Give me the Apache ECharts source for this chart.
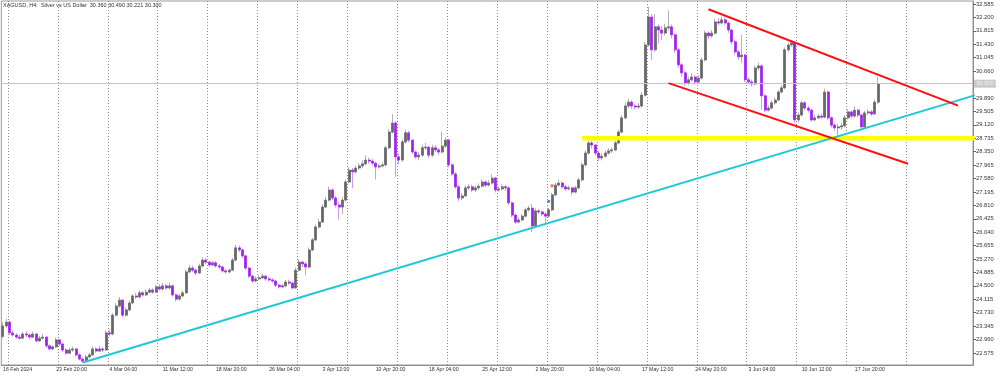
<!DOCTYPE html>
<html>
<head>
    <meta charset="UTF-8">
    <title>XAGUSD, H4</title>
    <script src="https://cdn.jsdelivr.net/npm/echarts@6/dist/echarts.min.js"></script>
    <style>
        html, body { margin: 0; padding: 0; background: #fff; }
        #main { width: 1000px; height: 376px; }
    </style>
</head>
<body>
<div id="main"></div>
<script type="text/javascript">
    // 标题 (symbol, timeframe, last bar OHLC)
    var titleText = 'XAGUSD, H4:  Silver vs US Dollar  30.360 30.490 30.221 30.300';

    // time axis labels, one every 16 candles
    var timeLabels = ['16 Feb 2024', '23 Feb 20:00', '4 Mar 04:00', '11 Mar 12:00', '18 Mar 20:00',
        '26 Mar 04:00', '3 Apr 12:00', '10 Apr 20:00', '18 Apr 04:00', '25 Apr 12:00', '2 May 20:00',
        '10 May 04:00', '17 May 12:00', '24 May 20:00', '3 Jun 04:00', '10 Jun 12:00', '17 Jun 20:00'];

    // candle index where each week starts (dotted grid)
    var weekStarts = [2, 17, 32, 47, 62, 77, 89, 104, 119, 134, 149, 164, 179, 194, 209, 224, 239, 254, 272];

    // price scale labels
    var priceTicks = [32.585, 32.200, 31.815, 31.430, 31.045, 30.660, 29.890, 29.505, 29.120, 28.735,
        28.350, 27.965, 27.580, 27.195, 26.810, 26.425, 26.040, 25.655, 25.270, 24.885, 24.500,
        24.115, 23.730, 23.345, 22.960, 22.575];

    var firstOpen = 23.05;
    var closes = [
        23.35, 23.46, 23.15, 23.09, 23.03, 23.00, 23.12, 23.09, 23.03, 23.12,
        22.92, 23.00, 23.03, 22.78, 22.69, 22.75, 22.95, 22.83, 22.66, 22.57,
        22.66, 22.69, 22.52, 22.40, 22.34, 22.46, 22.52, 22.69, 22.63, 22.69,
        22.66, 23.15, 23.12, 23.66, 23.92, 24.09, 23.66, 23.81, 24.01, 24.21,
        24.18, 24.30, 24.24, 24.32, 24.38, 24.32, 24.47, 24.41, 24.50, 24.44,
        24.50, 24.24, 24.12, 24.21, 24.30, 24.90, 25.01, 24.95, 24.87, 25.07,
        25.24, 25.18, 25.10, 25.16, 25.07, 25.04, 24.93, 24.90, 24.95, 25.24,
        25.59, 25.53, 25.36, 25.01, 24.78, 24.64, 24.70, 24.73, 24.78, 24.70,
        24.67, 24.64, 24.52, 24.47, 24.50, 24.61, 24.58, 24.44, 24.95, 25.18,
        25.13, 25.04, 25.53, 25.82, 26.19, 26.33, 26.76, 26.96, 27.25, 27.02,
        26.82, 26.76, 26.96, 27.48, 27.82, 27.77, 27.88, 27.94, 28.00, 28.11,
        28.08, 28.02, 27.91, 27.94, 27.97, 28.46, 28.91, 29.17, 28.20, 28.11,
        28.63, 28.89, 28.68, 28.34, 28.20, 28.25, 28.46, 28.48, 28.25, 28.46,
        28.40, 28.34, 28.51, 28.68, 27.97, 27.71, 27.34, 27.02, 27.08, 27.31,
        27.34, 27.25, 27.31, 27.36, 27.48, 27.39, 27.45, 27.59, 27.25, 27.28,
        27.34, 27.31, 26.88, 26.53, 26.33, 26.39, 26.50, 26.68, 26.73, 26.22,
        26.65, 26.62, 26.56, 26.50, 26.68, 27.11, 27.39, 27.45, 27.34, 27.28,
        27.31, 27.19, 27.31, 27.54, 27.97, 28.31, 28.60, 28.54, 28.31, 28.17,
        28.22, 28.31, 28.37, 28.40, 28.60, 28.91, 29.32, 29.66, 29.77, 29.66,
        29.63, 29.66, 29.97, 31.41, 32.21, 31.27, 31.93, 31.84, 31.75, 31.90,
        31.93, 31.70, 31.27, 30.84, 30.61, 30.32, 30.41, 30.49, 30.35, 30.46,
        30.98, 31.75, 31.67, 31.75, 32.07, 32.04, 32.13, 32.04, 31.84, 31.50,
        31.21, 31.07, 31.12, 30.41, 30.35, 30.29, 30.75, 30.81, 29.95, 29.54,
        29.60, 29.75, 29.83, 30.06, 30.18, 31.27, 31.41, 31.47, 29.26, 29.40,
        29.75, 29.60, 29.54, 29.26, 29.32, 29.37, 29.34, 30.06, 29.32, 29.11,
        29.03, 29.06, 29.09, 29.32, 29.49, 29.37, 29.54, 29.40, 29.06, 29.46,
        29.49, 29.43, 29.77, 30.30
    ];
    var highs = [
        23.46, 23.55, 23.50, 23.22, 23.14, 23.10, 23.18, 23.20, 23.13, 23.19,
        23.15, 23.06, 23.12, 23.06, 22.82, 22.80, 23.02, 22.98, 22.87, 22.70,
        22.72, 22.76, 22.72, 22.56, 22.45, 22.52, 22.58, 22.76, 22.74, 22.78,
        22.74, 23.22, 23.25, 23.72, 24.00, 24.18, 24.12, 23.88, 24.08, 24.27,
        24.30, 24.37, 24.35, 24.40, 24.44, 24.43, 24.53, 24.55, 24.58, 24.56,
        24.60, 24.54, 24.28, 24.27, 24.36, 24.97, 25.10, 25.08, 25.00, 25.14,
        25.32, 25.30, 25.22, 25.22, 25.21, 25.13, 25.08, 24.99, 25.01, 25.30,
        25.68, 25.66, 25.57, 25.40, 25.05, 24.82, 24.77, 24.80, 24.84, 24.82,
        24.75, 24.72, 24.68, 24.56, 24.56, 24.67, 24.68, 24.62, 25.02, 25.26,
        25.22, 25.18, 25.60, 25.88, 26.26, 26.42, 26.84, 27.05, 27.34, 27.30,
        27.08, 26.90, 27.05, 27.55, 27.90, 27.88, 27.95, 28.02, 28.10, 28.25,
        28.18, 28.14, 28.06, 28.00, 28.04, 28.52, 29.00, 29.42, 29.22, 28.30,
        28.70, 28.98, 28.95, 28.72, 28.38, 28.33, 28.55, 28.60, 28.52, 28.55,
        28.54, 28.45, 28.92, 28.76, 28.72, 28.02, 27.76, 27.40, 27.16, 27.38,
        27.42, 27.40, 27.38, 27.44, 27.55, 27.52, 27.53, 27.70, 27.63, 27.36,
        27.42, 27.40, 27.35, 26.92, 26.57, 26.46, 26.56, 26.74, 26.80, 26.85,
        26.72, 26.70, 26.66, 26.62, 26.74, 27.17, 27.46, 27.55, 27.50, 27.40,
        27.38, 27.35, 27.37, 27.60, 28.04, 28.38, 28.70, 28.66, 28.58, 28.36,
        28.30, 28.38, 28.45, 28.47, 28.66, 28.98, 29.40, 29.75, 29.86, 29.82,
        29.72, 29.74, 30.06, 31.50, 32.50, 32.30, 32.30, 32.00, 31.95, 32.02,
        32.40, 32.00, 31.74, 31.32, 30.90, 30.66, 30.50, 30.60, 30.55, 30.54,
        31.05, 31.82, 31.80, 31.84, 32.16, 32.18, 32.22, 32.20, 32.08, 31.88,
        31.55, 31.26, 31.70, 31.16, 30.48, 30.42, 30.82, 30.90, 30.85, 30.00,
        29.68, 29.82, 29.90, 30.12, 30.26, 31.34, 31.48, 31.55, 31.52, 29.48,
        29.82, 29.80, 29.66, 29.58, 29.40, 29.44, 29.45, 30.16, 30.10, 29.36,
        29.16, 29.14, 29.18, 29.40, 29.56, 29.52, 29.64, 29.58, 29.44, 29.52,
        29.56, 29.54, 29.84, 30.49
    ];
    var lows = [
        23.00, 23.30, 23.10, 23.04, 22.98, 22.95, 22.97, 23.03, 22.99, 23.00,
        22.88, 22.89, 22.96, 22.72, 22.64, 22.65, 22.72, 22.78, 22.60, 22.52,
        22.54, 22.61, 22.47, 22.36, 22.29, 22.31, 22.42, 22.49, 22.58, 22.60,
        22.60, 22.63, 23.05, 23.08, 23.62, 23.88, 23.60, 23.62, 23.77, 23.98,
        24.12, 24.14, 24.19, 24.20, 24.28, 24.27, 24.29, 24.36, 24.37, 24.39,
        24.40, 24.19, 24.05, 24.08, 24.17, 24.27, 24.86, 24.90, 24.80, 24.84,
        25.03, 25.12, 25.04, 25.06, 25.02, 24.99, 24.88, 24.85, 24.86, 24.92,
        25.20, 25.47, 25.30, 24.95, 24.72, 24.58, 24.60, 24.66, 24.69, 24.65,
        24.62, 24.59, 24.47, 24.42, 24.43, 24.46, 24.53, 24.40, 24.41, 24.92,
        25.04, 24.80, 25.00, 25.49, 25.78, 26.14, 26.30, 26.72, 26.92, 26.96,
        26.75, 26.40, 26.55, 26.92, 27.44, 27.30, 27.72, 27.82, 27.88, 27.96,
        28.00, 27.95, 27.55, 27.86, 27.89, 27.93, 28.42, 28.88, 27.62, 28.00,
        28.05, 28.58, 28.62, 28.28, 28.14, 28.10, 28.20, 28.40, 28.18, 28.20,
        28.33, 28.26, 28.30, 28.46, 27.90, 27.64, 27.28, 26.92, 26.96, 27.04,
        27.25, 27.19, 27.20, 27.26, 27.32, 27.33, 27.35, 27.41, 27.18, 27.20,
        27.24, 27.22, 26.82, 26.47, 26.28, 26.29, 26.35, 26.46, 26.63, 26.04,
        26.18, 26.56, 26.50, 26.25, 26.46, 26.64, 27.07, 27.35, 27.29, 27.22,
        27.24, 27.10, 27.15, 27.27, 27.50, 27.92, 28.26, 28.44, 28.24, 28.08,
        28.10, 28.17, 28.26, 28.30, 28.36, 28.56, 28.88, 29.28, 29.60, 29.58,
        29.56, 29.57, 29.60, 29.93, 31.36, 30.98, 31.20, 31.45, 31.55, 31.68,
        31.82, 31.60, 31.18, 30.76, 30.50, 30.24, 30.26, 30.36, 30.28, 30.30,
        30.42, 30.94, 31.58, 31.62, 31.70, 31.97, 32.00, 31.98, 31.76, 31.42,
        31.14, 30.98, 30.90, 30.34, 30.28, 30.22, 30.25, 30.68, 29.55, 29.48,
        29.50, 29.56, 29.70, 29.79, 30.02, 30.14, 31.22, 31.36, 29.18, 29.20,
        29.36, 29.54, 29.47, 29.20, 29.22, 29.28, 29.29, 29.30, 29.26, 29.04,
        28.95, 28.78, 28.98, 29.04, 29.27, 29.30, 29.32, 29.33, 28.98, 29.02,
        29.40, 29.37, 29.40, 29.72
    ];

    // drawn objects: [candle index, price]
    var supportLine = [[24, 22.301], [292, 29.963]];
    var channelTop = [[212, 32.433], [287, 29.671]];
    var channelBottom = [[200, 30.316], [272, 28.001]];
    var levelLine = [[174, 28.735], [292, 28.735]];
    var tradeSell = [[165, 27.37]];
    var tradeBuy = [[164, 26.93]];

    var barSlots = 292; // candles + empty space on the right
    var FONT = 'Liberation Sans, Arial, sans-serif';

    var cats = [];
    for (var i = 0; i < barSlots; i++) cats.push(String(i));

    var wickData = [], bodyData = [];
    for (var k = 0; k < closes.length; k++) {
        var o = k === 0 ? firstOpen : closes[k - 1];
        var c = closes[k];
        wickData.push([o, c, lows[k], highs[k]]);
        bodyData.push([o, c, Math.min(o, c), Math.max(o, c)]);
    }
    var lastPrice = closes[closes.length - 1];

    function isLabelIdx(idx) {
        idx = +idx;
        return idx % 16 === 0 && idx / 16 < timeLabels.length;
    }

    var myChart = echarts.init(document.getElementById('main'));

    var option = {
        animation: false,
        backgroundColor: '#ffffff',
        textStyle: { fontFamily: FONT },
        grid: {
            left: 0, right: 27, top: 1, bottom: 11,
            show: true, borderColor: '#9a9a9a', borderWidth: 1
        },
        graphic: [{
            type: 'text', left: 3, top: 2,
            style: { text: titleText, fontSize: 5.5, fill: '#333', fontFamily: FONT }
        }],
        xAxis: {
            type: 'category',
            data: cats,
            boundaryGap: true,
            axisLine: { lineStyle: { color: '#8c8c8c' } },
            axisTick: {
                alignWithLabel: true, length: 3,
                interval: function (idx) { return isLabelIdx(idx); },
                lineStyle: { color: '#666' }
            },
            axisLabel: {
                interval: function (idx) { return isLabelIdx(idx); },
                formatter: function (v) { return timeLabels[(+v) / 16] || ''; },
                align: 'left', fontSize: 5.2, color: '#333', margin: 2, hideOverlap: false
            },
            splitLine: {
                show: true,
                interval: function (idx) { return weekStarts.indexOf(+idx) >= 0; },
                lineStyle: { color: '#8a8a8a', type: [1, 2], width: 1 }
            }
        },
        yAxis: {
            type: 'value',
            position: 'right',
            min: 22.23,
            max: 32.671,
            axisLine: { show: true, lineStyle: { color: '#8c8c8c' } },
            axisTick: { show: true, length: 3, customValues: priceTicks, lineStyle: { color: '#666' } },
            axisLabel: {
                customValues: priceTicks,
                formatter: function (v) { return v.toFixed(3); },
                fontSize: 5.8, color: '#333', margin: 3
            },
            splitLine: { show: false }
        },
        series: [
            {
                name: 'wicks',
                type: 'candlestick',
                data: wickData,
                barWidth: 2.5,
                itemStyle: {
                    color: '#bdbdbd', color0: '#dba8f5',
                    borderColor: '#b0b0b0', borderColor0: '#d497f3', borderWidth: 1
                },
                silent: true,
                markLine: {
                    silent: true,
                    symbol: ['none', 'none'],
                    lineStyle: { color: '#c4c4c4', type: 'solid', width: 1 },
                    label: {
                        position: 'end', distance: 1,
                        formatter: function () { return lastPrice.toFixed(3); },
                        backgroundColor: '#c9c9c9', color: '#f4f4f4',
                        padding: [1, 2, 1, 2], fontSize: 5.8
                    },
                    data: [{ yAxis: lastPrice }]
                }
            },
            {
                name: 'bodies',
                type: 'candlestick',
                data: bodyData,
                barWidth: 2.5,
                itemStyle: {
                    color: '#666666', color0: '#a020f0',
                    borderColor: '#666666', borderColor0: '#a020f0', borderWidth: 0.5
                },
                silent: true
            },
            {
                type: 'line', data: supportLine, symbol: 'none', silent: true, z: 5,
                lineStyle: { color: '#1ec8d6', width: 2 }
            },
            {
                type: 'line', data: channelTop, symbol: 'none', silent: true, z: 5,
                lineStyle: { color: '#ff1010', width: 2 }
            },
            {
                type: 'line', data: channelBottom, symbol: 'none', silent: true, z: 5,
                lineStyle: { color: '#ff1010', width: 2 }
            },
            {
                type: 'line', data: levelLine, symbol: 'none', silent: true, z: 4,
                lineStyle: { color: '#ffff00', width: 4.5 }
            },
            {
                type: 'scatter', data: tradeSell, symbol: 'rect', symbolSize: 3, silent: true, z: 6,
                itemStyle: { color: '#f05a28' }
            },
            {
                type: 'scatter', data: tradeBuy, symbol: 'circle', symbolSize: 3, silent: true, z: 6,
                itemStyle: { color: '#1a5fd0' }
            }
        ]
    };

    myChart.setOption(option);
</script>
</body>
</html>
